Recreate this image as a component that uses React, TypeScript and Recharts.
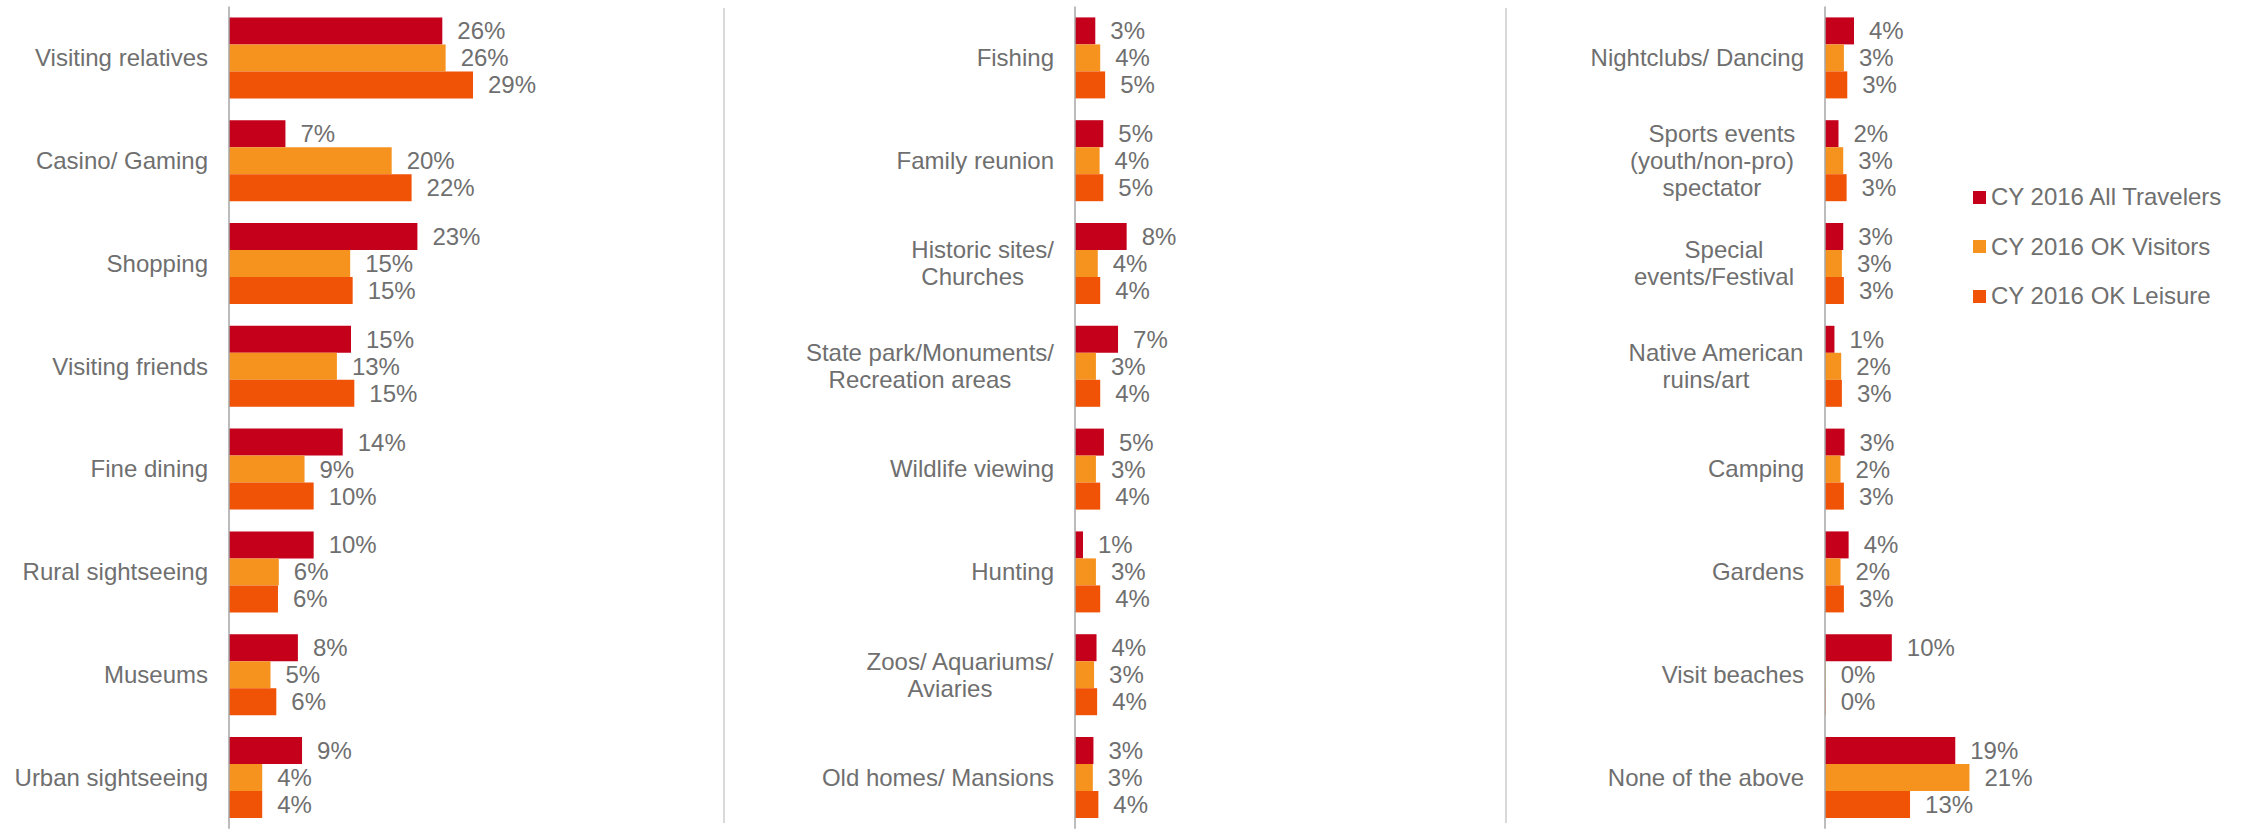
import React from 'react';
import { BarChart, Bar, XAxis, YAxis, LabelList, Legend } from 'recharts';

const seriesNames = ['CY 2016 All Travelers', 'CY 2016 OK Visitors', 'CY 2016 OK Leisure'];
const seriesColors = ['#C4001A', '#F6921E', '#F05206'];

const leftCategories = ['Visiting relatives', 'Casino/ Gaming', 'Shopping', 'Visiting friends', 'Fine dining', 'Rural sightseeing', 'Museums', 'Urban sightseeing'];
const leftAllTravelers = [25.7, 6.8, 22.7, 14.7, 13.7, 10.2, 8.3, 8.8];
const leftOkVisitors = [26.1, 19.6, 14.6, 13.0, 9.1, 6.0, 5.0, 4.0];
const leftOkLeisure = [29.4, 22.0, 14.9, 15.1, 10.2, 5.9, 5.7, 4.0];

const midCategories = ['Fishing', 'Family reunion', 'Historic sites/\nChurches', 'State park/Monuments/\nRecreation areas', 'Wildlife viewing', 'Hunting', 'Zoos/ Aquariums/\nAviaries', 'Old homes/ Mansions'];
const midAllTravelers = [3.3, 4.6, 8.4, 7.0, 4.7, 1.3, 3.5, 3.0];
const midOkVisitors = [4.1, 4.0, 3.7, 3.4, 3.4, 3.4, 3.1, 2.9];
const midOkLeisure = [4.9, 4.6, 4.1, 4.1, 4.1, 4.1, 3.6, 3.8];

const rightCategories = ['Nightclubs/ Dancing', 'Sports events\n(youth/non-pro)\nspectator', 'Special\nevents/Festival', 'Native American\nruins/art', 'Camping', 'Gardens', 'Visit beaches', 'None of the above'];
const rightAllTravelers = [4.3, 2.0, 2.7, 1.4, 2.9, 3.5, 9.9, 19.3];
const rightOkVisitors = [2.8, 2.7, 2.5, 2.4, 2.3, 2.3, 0.1, 21.4];
const rightOkLeisure = [3.3, 3.2, 2.8, 2.5, 2.8, 2.8, 0.1, 12.6];

const FONT = '"Liberation Sans", Arial, sans-serif';
const TEXT = '#6F6F6F';

const makeRows = (cats: string[], a: number[], b: number[], c: number[]) =>
  cats.map((name, i) => ({ name, all: a[i], visitors: b[i], leisure: c[i] }));

let ctx: CanvasRenderingContext2D | null = null;
const measure = (s: string) => {
  if (!ctx) ctx = document.createElement('canvas').getContext('2d');
  if (!ctx) return s.length * 12;
  ctx.font = '24px "Liberation Sans", Arial';
  return ctx.measureText(s).width;
};

const CategoryTick = (props: any) => {
  const { x, y, payload } = props;
  const lines = String(payload.value).split('\n');
  if (lines.length === 1) {
    return (
      <text x={x} y={y} dy="0.35em" textAnchor="end" fill={TEXT} fontSize={24} fontFamily={FONT}>
        {lines[0]}
      </text>
    );
  }
  const maxW = Math.max(...lines.map(measure));
  const cx = x - maxW / 2;
  return (
    <g>
      {lines.map((ln, i) => (
        <text
          key={i}
          x={i === 0 ? cx : cx - 10}
          y={y + (i - (lines.length - 1) / 2) * 27}
          dy="0.35em"
          textAnchor="middle"
          fill={TEXT}
          fontSize={24}
          fontFamily={FONT}
        >
          {ln}
        </text>
      ))}
    </g>
  );
};

// keep legend in series order, recharts sorts by name otherwise
const LegendContent = (props: any) => {
  const items = [...(props.payload || [])].sort(
    (a: any, b: any) => seriesNames.indexOf(a.value) - seriesNames.indexOf(b.value)
  );
  return (
    <div style={{ fontFamily: FONT }}>
      {items.map((p: any) => (
        <div key={p.value} style={{ display: 'flex', alignItems: 'center', height: 49.5, whiteSpace: 'nowrap' }}>
          <span style={{ width: 13, height: 13, background: p.color, marginRight: 5, display: 'inline-block' }} />
          <span style={{ fontSize: 24, color: TEXT }}>{p.value}</span>
        </div>
      ))}
    </div>
  );
};

const fmt = (v: any) => `${Math.round(Number(v))}%`;

type PanelProps = {
  rows: any[];
  left: number;
  width: number;
  axisWidth: number;
  domainMax: number;
  legend?: boolean;
};

const Panel = ({ rows, left, width, axisWidth, domainMax, legend }: PanelProps) => {
  const keys = ['all', 'visitors', 'leisure'];
  return (
    <div style={{ position: 'absolute', left, top: 0 }}>
      <BarChart
        width={width}
        height={831}
        data={rows}
        layout="vertical"
        margin={{ top: 6.4, right: 0, bottom: 2.2, left: 0 }}
        barGap={0}
        barSize={27}
      >
        <XAxis type="number" domain={[0, domainMax]} hide />
        <YAxis
          type="category"
          dataKey="name"
          width={axisWidth}
          interval={0}
          tickLine={false}
          tickSize={0}
          tickMargin={21}
          axisLine={{ stroke: '#A6A6A6', strokeWidth: 1.5 }}
          tick={<CategoryTick />}
        />
        {legend && (
          <Legend
            layout="vertical"
            align="center"
            verticalAlign="middle"
            content={<LegendContent />}
            wrapperStyle={{ position: 'absolute', left: 466, top: 172.5, width: 290 }}
          />
        )}
        {keys.map((k, i) => (
          <Bar key={k} dataKey={k} name={seriesNames[i]} fill={seriesColors[i]} isAnimationActive={false}>
            <LabelList
              dataKey={k}
              position="right"
              offset={15}
              formatter={fmt}
              fill={TEXT}
              fontSize={24}
              fontFamily={FONT}
            />
          </Bar>
        ))}
      </BarChart>
    </div>
  );
};

export default function App() {
  return (
    <div style={{ position: 'absolute', left: 0, top: 0, width: 2246, height: 831, background: '#fff', fontFamily: FONT }}>
      <Panel rows={makeRows(leftCategories, leftAllTravelers, leftOkVisitors, leftOkLeisure)} left={0} width={561} axisWidth={229} domainMax={40} />
      <div style={{ position: 'absolute', left: 722.5, top: 8, width: 2, height: 815, background: '#D9D9D9' }} />
      <Panel rows={makeRows(midCategories, midAllTravelers, midOkVisitors, midOkLeisure)} left={725} width={473} axisWidth={350} domainMax={20} />
      <div style={{ position: 'absolute', left: 1505, top: 8, width: 2, height: 815, background: '#D9D9D9' }} />
      <Panel rows={makeRows(rightCategories, rightAllTravelers, rightOkVisitors, rightOkLeisure)} left={1507} width={588} axisWidth={318} domainMax={40} legend />
    </div>
  );
}
